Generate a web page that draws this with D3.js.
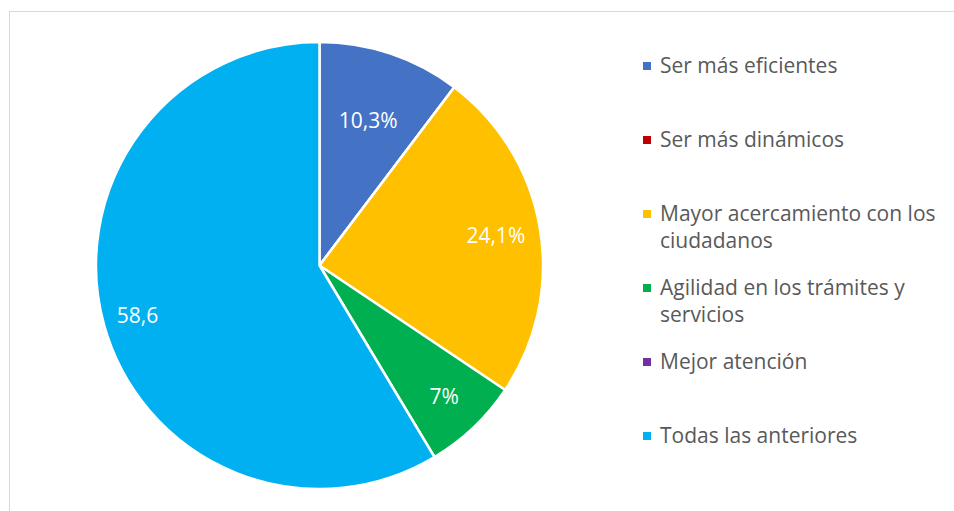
<!DOCTYPE html>
<html>
<head>
<meta charset="utf-8">
<script src="https://cdn.jsdelivr.net/npm/d3@7"></script>
<style>
  body { margin: 0; background: #fff; }
  svg { display: block; font-family: "Open Sans", Lato, sans-serif; }
</style>
</head>
<body>
<svg id="chart"></svg>
<script>
// ---------------- data ----------------
var categories = [
    "Ser más eficientes",
    "Ser más dinámicos",
    "Mayor acercamiento con los ciudadanos",
    "Agilidad en los trámites y servicios",
    "Mejor atención",
    "Todas las anteriores"
];
var values = [10.3, 0, 24.1, 7, 0, 58.6];
var labels = ["10,3%", "", "24,1%", "7%", "", "58,6"];

// ---------------- styles ----------------
var colors = ["#4472C4", "#C00000", "#FFC000", "#00B050", "#7030A0", "#00B0F0"];
var labelFactor = [0.685, 0.8, 0.8, 0.81, 0.8, 0.845];

var width = 954, height = 511;
var cx = 319.5, cy = 265.5, radius = 223.5;
var fontSize = 21;

var svg = d3.select('#chart')
    .attr('width', width)
    .attr('height', height);

// chart frame
svg.append('rect')
    .attr('x', 9.5)
    .attr('y', 11.5)
    .attr('width', width + 20)
    .attr('height', height + 20)
    .attr('fill', 'none')
    .attr('stroke', '#d9d9d9')
    .attr('stroke-width', 1);

// ---------------- pie ----------------
var pie = d3.pie().sort(null).value(d => d);
var arcs = pie(values);
var arc = d3.arc().innerRadius(0).outerRadius(radius);

var g = svg.append('g')
    .attr('transform', 'translate(' + cx + ',' + cy + ')');

g.selectAll('path')
    .data(arcs)
    .enter()
    .append('path')
        .attr('d', arc)
        .attr('fill', (d, i) => colors[i])
        .attr('stroke', '#fff')
        .attr('stroke-width', 2.5)
        .attr('stroke-linejoin', 'round');

g.selectAll('text.lbl')
    .data(arcs)
    .enter()
    .append('text')
        .classed('lbl', true)
        .attr('transform', function(d, i) {
            var r = radius * labelFactor[i];
            var c = d3.arc().innerRadius(r).outerRadius(r).centroid(d);
            return 'translate(' + c[0] + ',' + c[1] + ')';
        })
        .attr('text-anchor', 'middle')
        .attr('dy', '0.35em')
        .attr('fill', '#fff')
        .style('font-size', fontSize + 'px')
        .text((d, i) => labels[i]);

// ---------------- legend ----------------
var legendX = 643, legendY = 66, legendStep = 74, lineH = 27, wrapW = 290;

var legend = svg.append('g');

categories.forEach(function(name, i) {
    var y = legendY + i * legendStep;
    legend.append('rect')
        .attr('x', legendX)
        .attr('y', y - 4)
        .attr('width', 8)
        .attr('height', 8)
        .attr('fill', colors[i]);

    var t = legend.append('text')
        .attr('x', legendX + 17)
        .attr('y', y)
        .attr('dy', '0.35em')
        .attr('fill', '#595959')
        .style('font-size', fontSize + 'px');

    // simple word wrap
    var words = name.split(' ');
    var line = [];
    var ts = t.append('tspan').attr('x', legendX + 17);
    words.forEach(function(w) {
        line.push(w);
        ts.text(line.join(' '));
        if (ts.node().getComputedTextLength() > wrapW && line.length > 1) {
            line.pop();
            ts.text(line.join(' '));
            line = [w];
            ts = t.append('tspan')
                .attr('x', legendX + 17)
                .attr('dy', lineH)
                .text(w);
        }
    });
});
</script>
</body>
</html>
